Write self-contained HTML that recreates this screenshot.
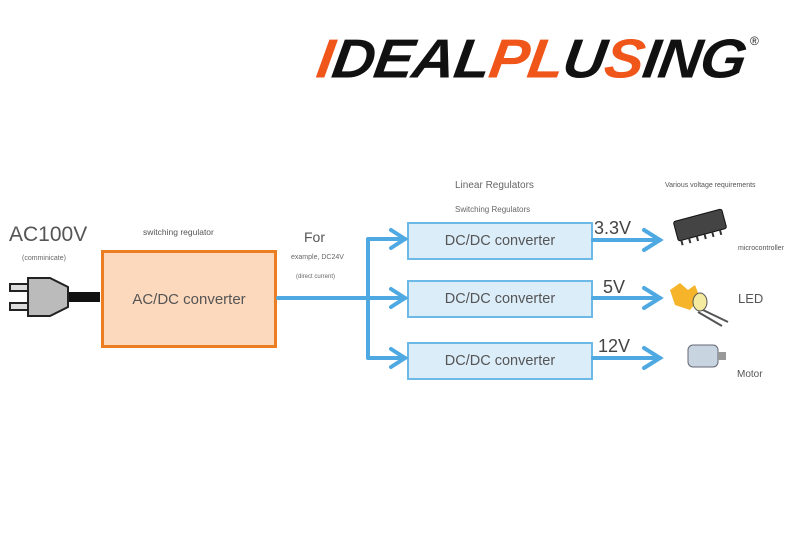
<!DOCTYPE html>
<html><head><meta charset="utf-8"><style>
body{margin:0;width:800px;height:540px;background:#fff;overflow:hidden;position:relative;font-family:"Liberation Sans",sans-serif;color:#555}
.t{position:absolute;white-space:nowrap}
.box{position:absolute;box-sizing:border-box;display:flex;align-items:center;justify-content:center}
.dc{left:407px;width:186px;height:38px;background:#dcedfa;border:2px solid #6cb8e6;font-size:14.5px;color:#555}
</style></head><body>
<div class="t" style="left:322px;top:29px;font-size:58px;font-weight:900;font-style:italic;transform-origin:0 0;transform:scale(1.02,0.95) skewX(-8deg);letter-spacing:-1px;line-height:64px"><span style="color:#f0561a">I</span><span style="color:#111">DEAL</span><span style="color:#f0561a">PL</span><span style="color:#111">U</span><span style="color:#f0561a">S</span><span style="color:#111">ING</span></div>
<div class="t" style="left:750px;top:34px;font-size:12px;color:#222">®</div>

<div class="t" style="left:9px;top:223px;font-size:21px;color:#555">AC100V</div>
<div class="t" style="left:22px;top:255px;font-size:7px;color:#666">(comminicate)</div>
<div class="t" style="left:143px;top:227px;font-size:8.5px;color:#555">switching regulator</div>
<div class="t" style="left:304px;top:229px;font-size:14px;color:#555">For</div>
<div class="t" style="left:291px;top:254px;font-size:7px;color:#666">example, DC24V</div>
<div class="t" style="left:296px;top:274px;font-size:6px;color:#666">(direct current)</div>
<div class="t" style="left:455px;top:180px;font-size:10px;color:#666">Linear Regulators</div>
<div class="t" style="left:455px;top:205px;font-size:8px;color:#666">Switching Regulators</div>
<div class="t" style="left:665px;top:182px;font-size:7px;color:#555">Various voltage requirements</div>
<div class="t" style="left:738px;top:245px;font-size:7px;color:#555">microcontroller</div>
<div class="t" style="left:738px;top:291px;font-size:13px;color:#555">LED</div>
<div class="t" style="left:737px;top:369px;font-size:10px;color:#555">Motor</div>
<div class="t" style="left:594px;top:218px;font-size:18px;color:#444">3.3V</div>
<div class="t" style="left:603px;top:277px;font-size:18px;color:#444">5V</div>
<div class="t" style="left:598px;top:336px;font-size:18px;color:#444">12V</div>

<div class="box" style="left:101px;top:250px;width:176px;height:98px;background:#fcd8bc;border:3px solid #eb7d22;font-size:15px;color:#555">AC/DC converter</div>
<div class="box dc" style="top:222px">DC/DC converter</div>
<div class="box dc" style="top:280px">DC/DC converter</div>
<div class="box dc" style="top:342px">DC/DC converter</div>

<svg width="800" height="540" style="position:absolute;left:0;top:0">
<g stroke="#4ea9e2" stroke-width="4" fill="none" stroke-linecap="round">
<path d="M278 298H405M368 239V358M368 239H405M368 358H405"/>
<path d="M391 230L405 239L391 248M391 289L405 298L391 307M391 349L405 358L391 367"/>
<path d="M593 240H660M593 298H660M593 358H660"/>
<path d="M644 230L660 240L644 250M644 288L660 298L644 308M644 348L660 358L644 368"/>
</g>
<rect x="68" y="292" width="32" height="10" fill="#111"/>
<rect x="10" y="284" width="20" height="7" fill="#ddd" stroke="#222" stroke-width="2"/>
<rect x="10" y="303" width="20" height="7" fill="#ddd" stroke="#222" stroke-width="2"/>
<path d="M28 278H50L68 287V307L50 316H28Z" fill="#bbb" stroke="#222" stroke-width="2"/>
<g transform="translate(700,225) rotate(-15)">
<rect x="-25" y="-10" width="50" height="20" rx="2" fill="#444" stroke="#111"/>
<path d="M-22 10v5M-14 10v5M-6 10v5M2 10v5M10 10v5M18 10v5" stroke="#333" stroke-width="2"/>
</g>
<g>
<path d="M670 290L680 283L688 290L695 285L700 298L690 310L675 305Z" fill="#f5b42a"/>
<ellipse cx="700" cy="302" rx="7" ry="9" fill="#f4eaa0" stroke="#555"/>
<path d="M703 310L728 322M698 312L722 326" stroke="#555" stroke-width="2"/>
</g>
<g>
<rect x="688" y="345" width="30" height="22" rx="5" fill="#c8d4e0" stroke="#667"/>
<rect x="718" y="352" width="8" height="8" fill="#999"/>
</g>
</svg>
</body></html>
